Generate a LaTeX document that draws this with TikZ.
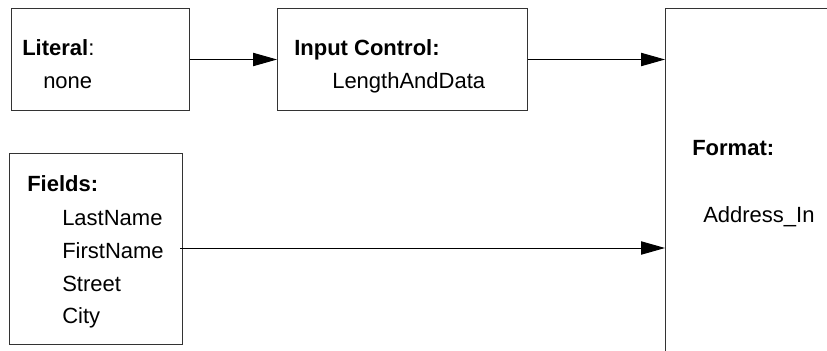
\documentclass[tikz,border=0pt]{standalone}
\usepackage{fontspec}
\setmainfont{Liberation Sans}
\usetikzlibrary{positioning,arrows.meta}
\tikzset{
  box/.style={draw=black!80, line width=0.75pt, anchor=north west, inner sep=0pt},
  txt/.style={anchor=base west, inner sep=0pt, font=\fontsize{16.5}{19}\selectfont},
  flow/.style={draw=black, line width=0.75pt, -{Triangle[length=18pt, width=10pt]}}
}

\begin{document}
\begin{tikzpicture}[x=0.75pt, y=-0.75pt]
  \useasboundingbox (0,0) rectangle (827,350);
  % boxes
  \node[box, minimum width=133.5pt, minimum height=76.5pt] (lit) at (11,8) {};
  \node[box, minimum width=187.5pt, minimum height=76.5pt] (inp) at (277,8) {};
  \node[box, minimum width=129.75pt, minimum height=143.25pt] (fld) at (9,153) {};
  \node[box, minimum width=131.25pt, minimum height=271.5pt] (fmt) at (665,8) {};
  % texts
  \node[txt] (littitle) at (22,55) {\textbf{Literal}:};
  \node[txt] (litval) at (43,88) {none};
  \node[txt] (inptitle) at (294,55) {\textbf{Input Control:}};
  \node[txt] (inpval) at (332,88) {LengthAndData};
  \node[txt] (fldtitle) at (27,191) {\textbf{Fields:}};
  \node[txt] (last) at (62,225) {LastName};
  \node[txt] (first) at (62,258) {FirstName};
  \node[txt] (street) at (62,291) {Street};
  \node[txt] (city) at (62,323) {City};
  \node[txt] (fmttitle) at (692,155) {\textbf{Format:}};
  \node[txt] (fmtval) at (703,222) {Address\_In};
  % connectors
  \coordinate (firstout) at (180,248);
  \draw[flow] (lit.east) -- (inp.west);
  \draw[flow] (inp.east) -- (inp.east -| fmt.west);
  \draw[flow] (firstout) -- (firstout -| fmt.west);
\end{tikzpicture}
\end{document}
